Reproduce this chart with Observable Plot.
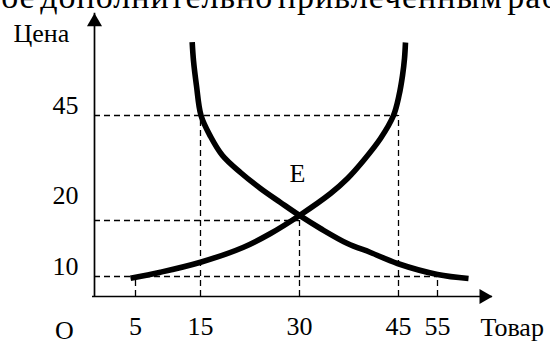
<!DOCTYPE html>
<html><head><meta charset="utf-8">
<script src="https://cdn.jsdelivr.net/npm/d3@7"></script>
<script src="https://cdn.jsdelivr.net/npm/@observablehq/plot@0.6"></script>
<style>
html,body{margin:0;padding:0;background:#fff;overflow:hidden;width:550px;height:341px}
#wrap{position:relative;width:550px;height:341px;overflow:hidden}
#top{position:absolute;left:-18px;top:-19px;font-family:"Liberation Serif","Times New Roman",serif;font-size:34px;letter-spacing:1px;word-spacing:-5px;white-space:nowrap;line-height:32px;color:#000}
#chart{position:absolute;left:0;top:0}
#chart svg, #chart svg text{font-family:"Liberation Serif","Times New Roman",serif !important;}
#chart svg text{font-size:26px !important;fill:#000}
</style></head><body>
<div id="wrap"><div id="chart"></div><div id="top"></div></div>
<script>
// Text
const topText = "ное дополнительно привлеченным работником";
const yTitle = "Цена";
const xTitle = "Товар";
const originLabel = "O";
const eqLabel = "E";

// Ticks
const xTicks = [5, 15, 30, 45, 55];
const yTicksMain = [10, 45];
const yTicksEq = [20];

// Axis extents (quantity, price)
const qMax = 60;
const pMax = 70;

// Supply curve (rising)
const supplyQ = [4.39, 8.85, 15, 21.52, 25.61, 30, 34.70, 37.27, 39.70, 42.27, 44.24, 45.13, 46.03, 46.54, 46.79];
const supplyP = [9.15, 10.77, 12.55, 15.23, 17.68, 21.2, 26.43, 30.0, 34.29, 39.52, 45, 49.89, 54.78, 58.93, 62.84];

// Demand curve (falling)
const demandQ = [13.72, 13.92, 14.38, 15.08, 16.52, 18.33, 21.06, 24.09, 27.12, 30, 33.18, 37.27, 40.76, 44.85, 55, 57.82];
const demandP = [62.91, 58.44, 52.33, 45, 40.0, 35.48, 31.43, 27.62, 24.29, 21.2, 18.57, 15.89, 14.29, 12.32, 10.36, 9.0];

// Dashed guides
const hGuideP = [45, 20, 10];
const hGuideQ = [45, 30, 55];
const vGuideQ = [5, 15, 30, 45, 55];
const vGuideP = [9.15, 45, 20, 45, 10];

const eqQ = 30, eqP = 21.2;

document.getElementById("top").textContent = topText;

const supply = supplyQ.map((q, i) => ({q, p: supplyP[i]}));
const demand = demandQ.map((q, i) => ({q, p: demandP[i]}));
const hGuides = hGuideP.map((p, i) => ({p, q: hGuideQ[i]}));
const vGuides = vGuideQ.map((q, i) => ({q, p: vGuideP[i]}));

const dash = {strokeDasharray: "6,4", strokeWidth: 1.3, stroke: "black"};
const font = "'Liberation Serif','Times New Roman',serif";
const txt = {fontFamily: font, fontSize: 26, fill: "black"};

const chart = Plot.plot({
  width: 550,
  height: 341,
  marginLeft: 94,
  marginBottom: 45,
  marginTop: 13,
  marginRight: 58,
  x: {type: "linear", domain: [0, 5, 15, 30, 45, 55, qMax], range: [94, 135, 200, 299, 398, 437, 492]},
  y: {type: "linear", domain: [0, 10, 20, 45, pMax], range: [296, 276, 220, 115, 12.7]},
  style: {fontFamily: font, fontSize: "26px", color: "black", background: "transparent", overflow: "visible"},
  marks: [
    Plot.ruleY(hGuides, {y: "p", x1: 0, x2: "q", ...dash}),
    Plot.ruleX(vGuides, {x: "q", y1: 0, y2: "p", ...dash}),
    Plot.ruleX([0], {y1: 0, y2: pMax, strokeWidth: 1.7}),
    Plot.ruleY([0], {x1: 0, x2: qMax, strokeWidth: 1.7, insetLeft: -2}),
    Plot.dot([{q: 0, p: pMax}], {x: "q", y: "p", symbol: "triangle", r: 5.6, fill: "black", stroke: null, dy: 8.66}),
    Plot.dot([{q: qMax, p: 0}], {x: "q", y: "p", symbol: "triangle", r: 5.6, fill: "black", stroke: null, rotate: 90, dx: -8.66}),
    Plot.line(supply, {x: "q", y: "p", curve: "catmull-rom", strokeWidth: 5.6, stroke: "black", strokeLinecap: "butt"}),
    Plot.line(demand, {x: "q", y: "p", curve: "catmull-rom", strokeWidth: 5.6, stroke: "black", strokeLinecap: "butt"}),
    Plot.axisX({ticks: xTicks, tickSize: 0, tickPadding: 20, label: null, tickFormat: d => String(d), ...txt}),
    Plot.axisY({ticks: yTicksMain, tickSize: 0, tickPadding: 16, label: null, tickFormat: d => String(d), ...txt, dy: -9.5}),
    Plot.axisY({ticks: yTicksEq, tickSize: 0, tickPadding: 16, label: null, tickFormat: d => String(d), ...txt, dy: -25}),
    Plot.text([{q: eqQ, p: eqP}], {x: "q", y: "p", text: () => eqLabel, lineAnchor: "bottom", dy: -33, dx: -2, ...txt}),
    Plot.text([{q: 0, p: 0}], {x: "q", y: "p", text: () => originLabel, lineAnchor: "bottom", dy: 42, dx: -30, ...txt}),
    Plot.text([{q: qMax, p: 0}], {x: "q", y: "p", text: () => xTitle, lineAnchor: "bottom", textAnchor: "start", dy: 39, dx: -12, ...txt}),
    Plot.text([{q: 0, p: pMax}], {x: "q", y: "p", text: () => yTitle, lineAnchor: "bottom", textAnchor: "start", dy: 29, dx: -81, ...txt})
  ]
});
document.getElementById("chart").appendChild(chart);
</script>
</body></html>
